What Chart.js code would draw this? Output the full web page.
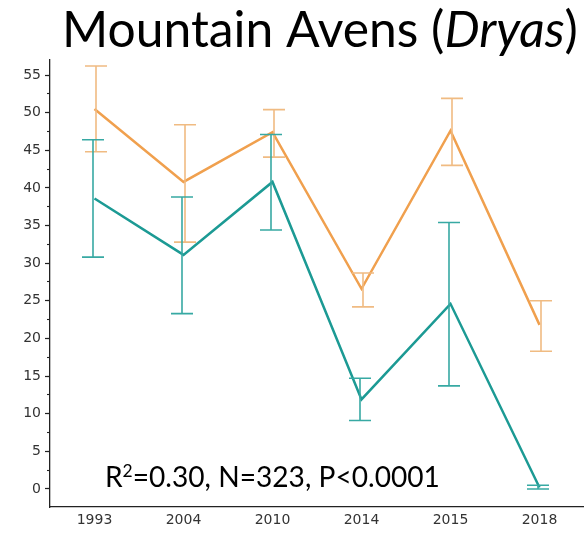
<!DOCTYPE html>
<html>
<head>
<meta charset="utf-8">
<script src="https://cdn.jsdelivr.net/npm/chart.js@4/dist/chart.umd.min.js"></script>
<style>
html, body { margin: 0; padding: 0; background: #ffffff; }
canvas { display: block; }
</style>
</head>
<body>
<canvas id="avens" width="584" height="535"></canvas>
<script>
// survey years and mean cover with error-bar limits, per series
const years = ["1993", "2004", "2010", "2014", "2015", "2018"];
const orangeMean = [50.5, 40.8, 47.4, 26.6, 47.6, 21.8];
const orangeHigh = [56.2, 48.4, 50.4, 28.7, 51.9, 25.0];
const orangeLow = [44.8, 32.8, 44.1, 24.2, 43.0, 18.3];
const tealMean = [38.6, 31.1, 40.8, 11.9, 24.6, 0.2];
const tealHigh = [46.4, 38.8, 47.1, 14.7, 35.4, 0.5];
const tealLow = [30.8, 23.3, 34.4, 9.1, 13.7, 0.0];

const majorTicks = [0, 5, 10, 15, 20, 25, 30, 35, 40, 45, 50, 55];
const minorTicks = [0, 2.5, 5, 7.5, 10, 12.5, 15, 17.5, 20, 22.5, 25, 27.5, 30, 32.5, 35, 37.5, 40, 42.5, 45, 47.5, 50, 52.5, 55];

const titleText = ["Mountain Avens (", "Dryas", ")"];
const statsText = ["R", "2", "=0.30, N=323, P<0.0001"];

const ORANGE = "#f0a04e";
const ORANGE_BAR = "#f0bb82";
const TEAL = "#1c9a94";
const TEAL_BAR = "#37a9a3";
const FAMILY = "Lato, 'Open Sans', sans-serif";

// vertical error bars with caps, drawn from the hi/lo arrays on each dataset
const errorBars = {
    id: "errorBars",
    afterDatasetsDraw(chart)
    {
        const ctx = chart.ctx;
        const xs = chart.scales.x;
        const ys = chart.scales.y;
        chart.data.datasets.forEach(ds =>
        {
            ctx.save();
            ctx.strokeStyle = ds.barColor;
            ctx.lineWidth = 1.6;
            ds.data.forEach((v, i) =>
            {
                const x = xs.getPixelForValue(i) + ds.barShift;
                const top = ys.getPixelForValue(ds.high[i]);
                const bot = ys.getPixelForValue(ds.low[i]);
                ctx.beginPath();
                ctx.moveTo(x, top);
                ctx.lineTo(x, bot);
                ctx.moveTo(x - 11, top);
                ctx.lineTo(x + 11, top);
                ctx.moveTo(x - 11, bot);
                ctx.lineTo(x + 11, bot);
                ctx.stroke();
            });
            ctx.restore();
        });
    }
};

// draws a run of text parts; fits them to a given width
function drawParts(ctx, parts, x, y, width)
{
    ctx.font = "100px " + FAMILY;
    let w = 0;
    parts.forEach(p =>
    {
        ctx.font = p.font(100);
        w += ctx.measureText(p.text).width;
    });
    const size = 100 * width / w;
    let cx = x;
    parts.forEach(p =>
    {
        ctx.font = p.font(size);
        ctx.fillText(p.text, cx, y - (p.rise || 0) * size);
        cx += ctx.measureText(p.text).width;
    });
}

const labels = {
    id: "labels",
    afterDraw(chart)
    {
        const ctx = chart.ctx;
        ctx.save();
        ctx.fillStyle = "#000000";
        ctx.textBaseline = "alphabetic";
        ctx.textAlign = "left";
        drawParts(ctx, [
            { text: titleText[0], font: s => s + "px " + FAMILY },
            { text: titleText[1], font: s => "italic " + s + "px " + FAMILY },
            { text: titleText[2], font: s => s + "px " + FAMILY }
        ], 62, 47, 516);
        const area = chart.chartArea;
        drawParts(ctx, [
            { text: statsText[0], font: s => s + "px " + FAMILY },
            { text: statsText[1], font: s => (s * 0.62) + "px " + FAMILY, rise: 0.36 },
            { text: statsText[2], font: s => s + "px " + FAMILY }
        ], area.left + 55, area.bottom - 20, 335);
        ctx.restore();
    }
};

new Chart(document.getElementById("avens"),
{
    type: "line",
    data:
    {
        labels: years,
        datasets:
        [
            {
                label: "Dryas A",
                data: orangeMean,
                high: orangeHigh,
                low: orangeLow,
                barColor: ORANGE_BAR,
                barShift: 1.5,
                borderColor: ORANGE,
                borderWidth: 2.5,
                pointRadius: 0,
                tension: 0,
                fill: false
            },
            {
                label: "Dryas B",
                data: tealMean,
                high: tealHigh,
                low: tealLow,
                barColor: TEAL_BAR,
                barShift: -1.5,
                borderColor: TEAL,
                borderWidth: 2.5,
                pointRadius: 0,
                tension: 0,
                fill: false
            }
        ]
    },
    options:
    {
        responsive: false,
        animation: false,
        devicePixelRatio: 1,
        layout:
        {
            padding: { top: 60, right: 0, bottom: 0, left: 0 }
        },
        plugins:
        {
            legend: { display: false },
            tooltip: { enabled: false }
        },
        scales:
        {
            x:
            {
                type: "category",
                offset: true,
                grid: { display: false, drawTicks: false },
                border: { display: true, color: "#222222", width: 1.3 },
                ticks:
                {
                    color: "#333333",
                    padding: 5,
                    font: { family: "'DejaVu Sans'", size: 14 }
                },
                afterFit(scale) { scale.height = 28; }
            },
            y:
            {
                position: "left",
                weight: 1,
                min: -2.4,
                max: 57,
                afterBuildTicks(scale) { scale.ticks = majorTicks.map(v => ({ value: v })); },
                grid: { drawOnChartArea: false, drawTicks: true, tickLength: 5, tickColor: "#222222", tickWidth: 1.2 },
                border: { display: true, color: "#222222", width: 1.3 },
                ticks:
                {
                    color: "#333333",
                    padding: 4,
                    font: { family: "'DejaVu Sans'", size: 14 }
                },
                afterFit(scale) { scale.width = 50; }
            },
            yMinor:
            {
                position: "left",
                weight: 0,
                min: -2.4,
                max: 57,
                afterBuildTicks(scale) { scale.ticks = minorTicks.map(v => ({ value: v })); },
                grid: { drawOnChartArea: false, drawTicks: true, tickLength: 3, tickColor: "#222222", tickWidth: 1.1 },
                border: { display: false },
                ticks: { display: false },
                afterFit(scale) { scale.width = 0; }
            }
        }
    },
    plugins: [errorBars, labels]
});
</script>
</body>
</html>
